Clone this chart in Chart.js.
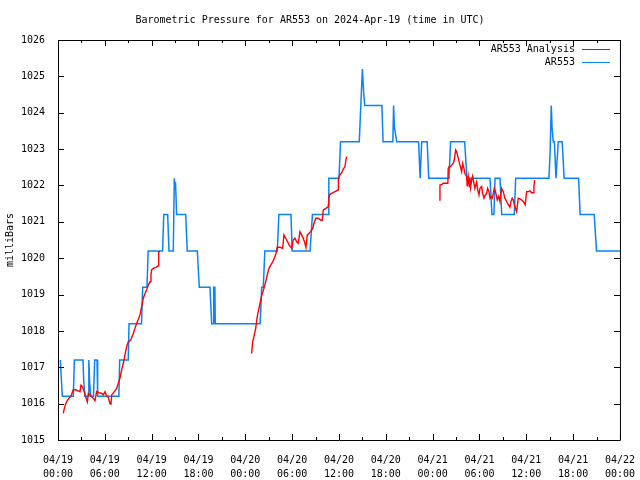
<!DOCTYPE html>
<html>
<head>
<meta charset="utf-8">
<script src="https://cdn.jsdelivr.net/npm/chart.js@4.4.1/dist/chart.umd.min.js"></script>
<style>
  html, body { margin: 0; padding: 0; background: #fff; }
</style>
</head>
<body>
<canvas id="baro" width="640" height="480"></canvas>
<script>
// hours since 04/19 00:00 UTC
const analysisHours = [
  0.68, 0.81, 0.98, 1.19, 1.41, 1.67, 1.96, 2.26, 2.52, 2.82, 2.95, 3.12, 3.37, 3.54, 3.76, 3.89,
  4.10, 4.31, 4.52, 4.74, 4.95, 5.25, 5.59, 5.81, 6.02, 6.24, 6.45, 6.66, 6.79, 6.88, 7.22, 7.52,
  7.73, 7.94, 8.16, 8.37, 8.58, 8.80, 9.00, 9.31, 9.65, 9.86, 10.08, 10.29, 10.50, 10.72, 10.93,
  11.15, 11.36, 11.57, 11.79, 11.91, 12.00, 12.21, 12.55, 12.85, 12.90, 13.07,
  18,
  24.81, 24.94, 25.10, 25.33, 25.53, 25.79, 25.97, 26.17, 26.39, 26.61, 26.81, 27.03, 27.25, 27.51,
  27.71, 27.93, 28.09, 28.44, 28.79, 28.95, 29.30, 29.63, 29.94, 30.14, 30.36, 30.58, 30.78, 31.00,
  31.22, 31.42, 31.64, 31.77, 31.94, 32.16, 32.37, 32.63, 32.80, 33.05, 33.35, 33.65, 33.85, 33.99,
  34.33, 34.63, 34.76, 35.06, 35.49, 35.91, 35.93, 36.13, 36.34, 36.55, 36.77, 36.89, 36.98,
  42,
  48.85, 48.94, 49.20, 49.36, 49.80, 49.95, 50.00, 50.13, 50.30, 50.44, 50.64, 50.77, 50.95, 51.08,
  51.28, 51.50, 51.72, 51.85, 52.01, 52.14, 52.36, 52.43, 52.56, 52.69, 52.78, 52.87, 53.00, 53.13,
  53.29, 53.42, 53.64, 53.77, 53.94, 54.06, 54.28, 54.41, 54.58, 54.75, 54.92, 55.05, 55.22, 55.35,
  55.47, 55.64, 55.77, 55.90, 56.11, 56.28, 56.46, 56.62, 56.84, 57.05, 57.26, 57.48, 57.69, 57.90,
  58.03, 58.20, 58.33, 58.54, 58.76, 58.84, 58.97, 59.18, 59.40, 59.61, 59.86, 60.04, 60.25, 60.47,
  60.68, 60.89, 60.98, 61.07
];
const analysisMb = [
  1015.73, 1015.87, 1015.99, 1016.08, 1016.15, 1016.21, 1016.38, 1016.38, 1016.36, 1016.33, 1016.51,
  1016.47, 1016.33, 1016.19, 1016.05, 1016.28, 1016.24, 1016.19, 1016.15, 1016.08, 1016.33, 1016.30,
  1016.28, 1016.24, 1016.33, 1016.21, 1016.17, 1016.00, 1015.99, 1016.24, 1016.33, 1016.42, 1016.56,
  1016.70, 1016.93, 1017.11, 1017.34, 1017.57, 1017.70, 1017.75, 1017.93, 1018.07, 1018.21, 1018.32,
  1018.44, 1018.67, 1018.90, 1019.03, 1019.13, 1019.26, 1019.35, 1019.54, 1019.68, 1019.72, 1019.75,
  1019.79, 1020.18, 1020.18,
  null,
  1017.38, 1017.70, 1017.84, 1018.07, 1018.39, 1018.67, 1018.85, 1019.03, 1019.17, 1019.35, 1019.54,
  1019.72, 1019.81, 1019.90, 1020.00, 1020.13, 1020.30, 1020.30, 1020.27, 1020.64, 1020.50, 1020.36,
  1020.27, 1020.50, 1020.55, 1020.45, 1020.41, 1020.73, 1020.64, 1020.55, 1020.41, 1020.30, 1020.64,
  1020.68, 1020.73, 1020.82, 1020.96, 1021.10, 1021.10, 1021.05, 1021.04, 1021.33, 1021.37, 1021.42,
  1021.74, 1021.78, 1021.83, 1021.88, 1022.20, 1022.29, 1022.35, 1022.45, 1022.52, 1022.70, 1022.79,
  null,
  1021.60, 1022.01, 1022.03, 1022.06, 1022.06, 1022.06, 1022.47, 1022.52, 1022.52, 1022.56, 1022.61,
  1022.70, 1022.98, 1022.93, 1022.75, 1022.56, 1022.38, 1022.61, 1022.47, 1022.33, 1022.24, 1021.97,
  1022.24, 1021.97, 1022.20, 1021.95, 1022.15, 1022.26, 1022.06, 1021.92, 1022.10, 1021.88, 1021.74,
  1021.92, 1021.97, 1021.78, 1021.65, 1021.74, 1021.78, 1021.92, 1021.83, 1021.65, 1021.70, 1021.65,
  1021.78, 1021.92, 1021.78, 1021.60, 1021.70, 1021.56, 1021.92, 1021.83, 1021.65, 1021.56, 1021.47,
  1021.40, 1021.56, 1021.65, 1021.60, 1021.42, 1021.28, 1021.42, 1021.65, 1021.63, 1021.60, 1021.56,
  1021.47, 1021.83, 1021.83, 1021.85, 1021.80, 1021.80, 1021.97, 1022.15
];

const stationHours = [
  0.30, 0.45, 0.55, 1.96, 2.10, 3.20, 3.30, 3.45, 3.85, 3.95, 4.05, 4.20, 4.55, 4.70, 5.00, 5.08,
  7.80, 7.90, 9.00, 9.10, 10.70, 10.85, 11.40, 11.55, 13.40, 13.55, 14.05, 14.22, 14.77, 14.90,
  15.00, 15.05, 15.20, 16.36, 16.56, 17.85, 18.10, 19.47, 19.69, 19.90, 19.95, 20.10, 20.15, 25.90,
  26.10, 26.30, 26.50, 28.10, 28.30, 29.85, 30.00, 32.30, 32.60, 34.60, 34.70, 36.00, 36.20, 38.60,
  38.80, 39.00, 39.15, 39.30, 41.50, 41.65, 42.90, 43.00, 43.10, 43.40, 46.20, 46.40, 46.60, 47.30,
  47.50, 50.10, 50.30, 52.10, 52.40, 55.35, 55.60, 55.85, 56.00, 56.63, 56.85, 58.46, 58.64, 62.90,
  63.05, 63.20, 63.30, 63.45, 63.60, 63.80, 64.10, 64.60, 64.85, 66.70, 66.90, 68.70, 69.00, 72.00
];
const stationMb = [
  1017.2, 1016.6, 1016.2, 1016.2, 1017.2, 1017.2, 1016.6, 1016.2, 1016.2, 1017.2, 1016.6, 1016.2,
  1016.2, 1017.2, 1017.2, 1016.2, 1016.2, 1017.2, 1017.2, 1018.2, 1018.2, 1019.2, 1019.2, 1020.2,
  1020.2, 1021.2, 1021.2, 1020.2, 1020.2, 1022.2, 1021.9, 1022.1, 1021.2, 1021.2, 1020.2, 1020.2,
  1019.2, 1019.2, 1018.2, 1018.2, 1019.2, 1019.2, 1018.2, 1018.2, 1019.2, 1019.2, 1020.2, 1020.2,
  1021.2, 1021.2, 1020.2, 1020.2, 1021.2, 1021.2, 1022.2, 1022.2, 1023.2, 1023.2, 1024.2, 1025.2,
  1024.6, 1024.2, 1024.2, 1023.2, 1023.2, 1024.2, 1023.6, 1023.2, 1023.2, 1022.2, 1023.2, 1023.2,
  1022.2, 1022.2, 1023.2, 1023.2, 1022.2, 1022.2, 1021.2, 1021.2, 1022.2, 1022.2, 1021.2, 1021.2,
  1022.2, 1022.2, 1022.9, 1024.2, 1023.6, 1023.2, 1023.2, 1022.2, 1023.2, 1023.2, 1022.2, 1022.2,
  1021.2, 1021.2, 1020.2, 1020.2
];

const tickDates = ['04/19', '04/19', '04/19', '04/19', '04/20', '04/20', '04/20', '04/20',
                   '04/21', '04/21', '04/21', '04/21', '04/22'];
const tickTimes = ['00:00', '06:00', '12:00', '18:00', '00:00', '06:00', '12:00', '18:00',
                   '00:00', '06:00', '12:00', '18:00', '00:00'];

Chart.defaults.font.family = "'DejaVu Sans Mono', 'Liberation Mono', monospace";
Chart.defaults.font.size = 10;
Chart.defaults.color = '#000';

// gnuplot style frame, inward tics and a legend inside the plot
const frameTicks = {
  id: 'frameTicks',
  afterDraw(chart) {
    const { ctx, chartArea: a, scales: { x, y } } = chart;
    ctx.save();
    ctx.strokeStyle = '#000';
    ctx.lineWidth = 1;
    ctx.beginPath();
    ctx.rect(a.left + 0.5, a.top + 0.5, a.right - a.left, a.bottom - a.top);
    for (let h = x.min; h <= x.max; h += 3) {
      const px = Math.round(x.getPixelForValue(h)) + 0.5;
      const len = h % 6 === 0 ? 6 : 3;
      ctx.moveTo(px, a.bottom); ctx.lineTo(px, a.bottom - len);
      ctx.moveTo(px, a.top); ctx.lineTo(px, a.top + len);
    }
    y.ticks.forEach(t => {
      const py = Math.round(y.getPixelForValue(t.value)) + 0.5;
      ctx.moveTo(a.left, py); ctx.lineTo(a.left + 6, py);
      ctx.moveTo(a.right, py); ctx.lineTo(a.right - 6, py);
    });
    ctx.stroke();

    ctx.font = Chart.helpers.toFont(Chart.defaults.font).string;
    ctx.textAlign = 'right';
    ctx.textBaseline = 'middle';
    chart.data.datasets.forEach((ds, i) => {
      const ly = a.top + 9.5 + i * 13;
      ctx.fillStyle = '#000';
      ctx.fillText(ds.label, a.right - 45, ly);
      ctx.strokeStyle = ds.borderColor;
      ctx.beginPath();
      ctx.moveTo(a.right - 38, ly);
      ctx.lineTo(a.right - 10, ly);
      ctx.stroke();
    });
    ctx.restore();
  }
};

new Chart(document.getElementById('baro'), {
  type: 'line',
  data: {
    datasets: [
      {
        label: 'AR553 Analysis',
        data: analysisHours.map((h, i) => ({ x: h, y: analysisMb[i] })),
        borderColor: '#ff0000',
        borderWidth: 1.4,
        pointRadius: 0,
        spanGaps: false
      },
      {
        label: 'AR553',
        data: stationHours.map((h, i) => ({ x: h, y: stationMb[i] })),
        borderColor: '#0a84f5',
        borderWidth: 1.5,
        pointRadius: 0
      }
    ]
  },
  options: {
    responsive: false,
    animation: false,
    layout: { padding: { left: 0, right: 20, top: 0, bottom: 0 } },
    plugins: {
      legend: { display: false },
      tooltip: { enabled: false },
      title: {
        display: true,
        text: 'Barometric Pressure for AR553 on 2024-Apr-19 (time in UTC)',
        font: { size: 10, weight: 'normal' },
        padding: { top: 14, bottom: 14 }
      }
    },
    scales: {
      x: {
        type: 'linear',
        min: 0,
        max: 72,
        grid: { display: false },
        border: { display: false },
        ticks: {
          stepSize: 6,
          autoSkip: false,
          maxRotation: 0,
          padding: 5,
          font: { size: 10, lineHeight: 1.4 },
          callback: v => [tickDates[v / 6], tickTimes[v / 6]]
        },
        afterFit: s => { s.height = 40; }
      },
      y: {
        min: 1015,
        max: 1026,
        grid: { display: false },
        border: { display: false },
        ticks: { stepSize: 1, padding: 5, callback: v => String(v) },
        title: { display: true, text: 'milliBars', padding: { top: 4, bottom: 0 } },
        afterFit: s => { s.width = 58; }
      }
    }
  },
  plugins: [frameTicks]
});
</script>
</body>
</html>
